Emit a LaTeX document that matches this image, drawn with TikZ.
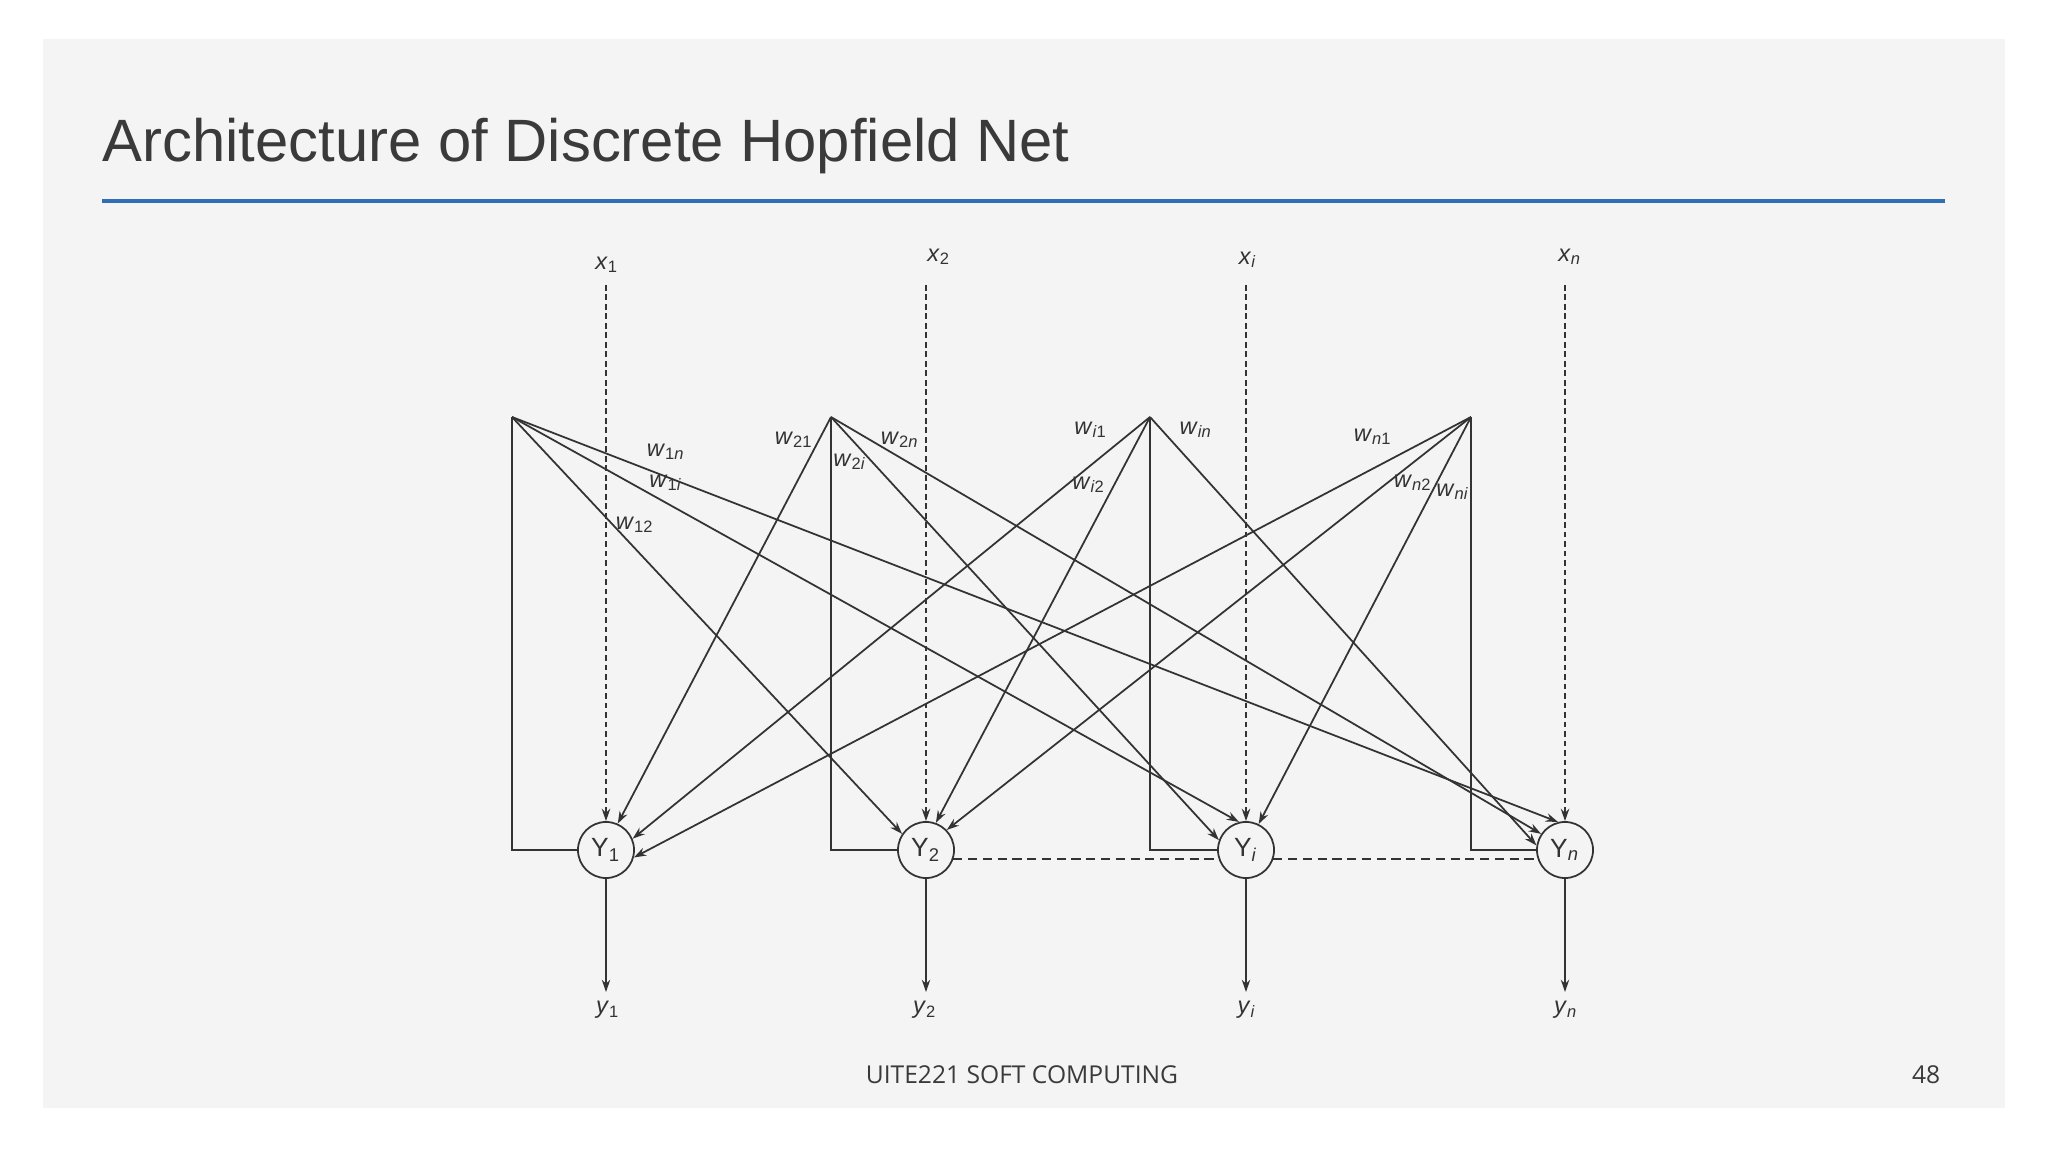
\documentclass[tikz,border=0pt]{standalone}
\usepackage{fontspec}
\setmainfont{Liberation Sans}
\newfontfamily\footfont{Open Sans}
\usetikzlibrary{arrows.meta}

\definecolor{panel}{HTML}{F4F4F4}
\definecolor{titlegray}{HTML}{3A3A3A}
\definecolor{rulebl}{HTML}{2F6EB5}
\definecolor{ink}{HTML}{333333}

\newcommand{\wt}[1]{\textit{w}\textsubscript{#1}}

\tikzset{
  unit/.style={circle, draw=ink, line width=0.5pt, minimum size=0.56cm, inner sep=0pt,
    text=ink, font=\fontsize{7.5}{8}\selectfont},
  wire/.style={draw=ink, line width=0.5pt, -{Stealth[length=3.5pt,width=2.4pt]}},
  backline/.style={draw=ink, line width=0.5pt},
  inwire/.style={draw=ink, line width=0.5pt, dash pattern=on 1.6pt off 1.1pt,
    -{Stealth[length=3.5pt,width=2.4pt]}},
  linkline/.style={draw=ink, line width=0.55pt, dash pattern=on 2.6pt off 1.6pt},
  lab/.style={font=\fontsize{6.7}{7}\selectfont, text=ink, inner sep=0pt},
}

\begin{document}
\begin{tikzpicture}[x=0.01cm, y=-0.01cm]
    \useasboundingbox (0,0) rectangle (2048,1152);
    \fill[white] (0,0) rectangle (2048,1152);
    \fill[panel] (43,39) rectangle (2005,1108);

    % title and rule
    \node[anchor=base west, inner sep=0pt, text=titlegray, font=\fontsize{17}{20}\selectfont]
        (title) at (102,162) {Architecture of Discrete Hopfield Net};
    \draw[rulebl, line width=1.1pt] (102,201) -- (1945,201);

    % units
    \node[unit] (Y1) at (606,850) {Y\textsubscript{1}};
    \node[unit] (Y2) at (926,850) {Y\textsubscript{2}};
    \node[unit] (Yi) at (1246,850) {Y\textsubscript{\textit{i}}};
    \node[unit] (Yn) at (1565,850) {Y\textsubscript{\textit{n}}};

    % fan points
    \coordinate (f1) at (512,417);
    \coordinate (f2) at (831,417);
    \coordinate (fi) at (1150,417);
    \coordinate (fn) at (1471,417);

    % inputs
    \coordinate (in1) at (606,285);
    \coordinate (in2) at (926,285);
    \coordinate (ini) at (1246,285);
    \coordinate (inn) at (1565,285);
    \node[lab] (x1) at (607,265) {\textit{x}\textsubscript{1}};
    \node[lab] (x2) at (939,257) {\textit{x}\textsubscript{2}};
    \node[lab] (xi) at (1248,260) {\textit{x}\textsubscript{\textit{i}}};
    \node[lab] (xn) at (1570,257) {\textit{x}\textsubscript{\textit{n}}};
    \draw[inwire] (in1) -- (Y1);
    \draw[inwire] (in2) -- (Y2);
    \draw[inwire] (ini) -- (Yi);
    \draw[inwire] (inn) -- (Yn);

    % outputs
    \coordinate (out1) at (606,992);
    \coordinate (out2) at (926,992);
    \coordinate (outi) at (1246,992);
    \coordinate (outn) at (1565,992);
    \draw[wire] (Y1) -- (out1);
    \draw[wire] (Y2) -- (out2);
    \draw[wire] (Yi) -- (outi);
    \draw[wire] (Yn) -- (outn);
    \node[lab] (y1) at (608,1010) {\textit{y}\textsubscript{1}};
    \node[lab] (y2) at (925,1010) {\textit{y}\textsubscript{2}};
    \node[lab] (yi) at (1247,1010) {\textit{y}\textsubscript{\textit{i}}};
    \node[lab] (yn) at (1566,1010) {\textit{y}\textsubscript{\textit{n}}};

    % feedback from each unit up to its fan point
    \draw[backline] (Y1.west) -| (f1);
    \draw[backline] (Y2.west) -| (f2);
    \draw[backline] (Yi.west) -| (fi);
    \draw[backline] (Yn.west) -| (fn);

    % weighted links
    \draw[wire] (f1) -- (Y2.146);
    \draw[wire] (f1) -- (Yi.104);
    \draw[wire] (f1) -- (Yn.104);
    \draw[wire] (f2) -- (Y1.66);
    \draw[wire] (f2) -- (Yi.160);
    \draw[wire] (f2) -- (Yn.146);
    \draw[wire] (fi) -- (Y1.23);
    \draw[wire] (fi) -- (Y2.70);
    \draw[wire] (fi) -- (Yn.171);
    \draw[wire] (fn) -- (Y1.-15);
    \draw[wire] (fn) -- (Y2.44);
    \draw[wire] (fn) -- (Yi.64);

    \node[lab] (w1n) at (666,452) {\wt{1\textit{n}}};
    \node[lab] (w1i) at (666,483) {\wt{1\textit{i}}};
    \node[lab] (w12) at (635,525) {\wt{12}};
    \node[lab] (w21) at (794,440) {\wt{21}};
    \node[lab] (w2i) at (850,462) {\wt{2\textit{i}}};
    \node[lab] (w2n) at (900,440) {\wt{2\textit{n}}};
    \node[lab] (wi1) at (1091,430) {\wt{\textit{i}1}};
    \node[lab] (wi2) at (1089,485) {\wt{\textit{i}2}};
    \node[lab] (win) at (1196,430) {\wt{\textit{in}}};
    \node[lab] (wn1) at (1373,437) {\wt{\textit{n}1}};
    \node[lab] (wn2) at (1413,483) {\wt{\textit{n}2}};
    \node[lab] (wni) at (1453,492) {\wt{\textit{ni}}};

    % dashed links between units
    \draw[linkline] (Y2.-19) -- (Yi.199);
    \draw[linkline] (Yi.-19) -- (Yn.199);

    % footer
    \node[anchor=base, inner sep=0pt, text=titlegray, font=\footfont\fontsize{7}{8}\selectfont]
        (foot) at (1022,1083) {UITE221 SOFT COMPUTING};
    \node[anchor=base east, inner sep=0pt, text=titlegray, font=\footfont\fontsize{7}{8}\selectfont]
        (page) at (1941,1083) {48};
\end{tikzpicture}
\end{document}
